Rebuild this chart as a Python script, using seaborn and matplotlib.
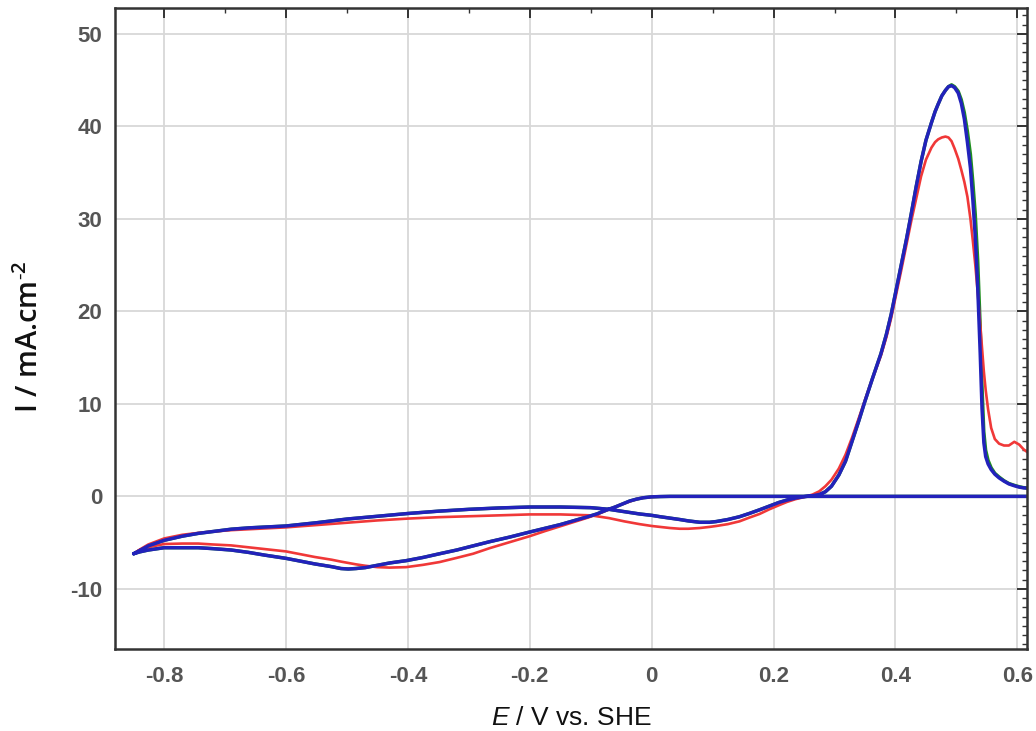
import matplotlib
matplotlib.use("Agg")
import matplotlib.pyplot as plt
import seaborn as sns
import pandas as pd
from matplotlib import font_manager as fm
from matplotlib.ticker import MultipleLocator

# ---------------- data ----------------
# anodic (forward) scan potentials, V vs SHE
E_fwd = [-0.85, -0.84, -0.826, -0.80, -0.77, -0.744, -0.72, -0.69, -0.66, -0.63,
         -0.60, -0.55, -0.50, -0.45, -0.40, -0.35, -0.30, -0.25, -0.20, -0.15,
         -0.10, -0.07, -0.045, -0.02, 0.0, 0.014, 0.03, 0.046, 0.06, 0.079,
         0.095, 0.106, 0.125, 0.144, 0.16, 0.177, 0.193, 0.209, 0.222, 0.236,
         0.25, 0.264, 0.275, 0.285, 0.295, 0.307, 0.318, 0.329, 0.34, 0.349,
         0.362, 0.376, 0.385, 0.393, 0.401, 0.409, 0.418, 0.426, 0.434, 0.442,
         0.45, 0.459, 0.465, 0.47, 0.476, 0.482, 0.487, 0.492, 0.497, 0.503,
         0.508, 0.513, 0.518, 0.523, 0.527, 0.531, 0.535, 0.539, 0.542, 0.545,
         0.548, 0.552, 0.557, 0.563, 0.57, 0.578, 0.586, 0.595, 0.603, 0.61,
         0.62]

I_blue_fwd = [-6.2, -5.85, -5.35, -4.75, -4.3, -4.0, -3.8, -3.55, -3.4, -3.3,
              -3.2, -2.85, -2.45, -2.15, -1.85, -1.6, -1.4, -1.25, -1.15, -1.15,
              -1.22, -1.4, -1.65, -1.9, -2.05, -2.2, -2.35, -2.5, -2.65, -2.8,
              -2.8, -2.72, -2.5, -2.2, -1.85, -1.45, -1.05, -0.65, -0.4, -0.18,
              -0.03, 0.07, 0.2, 0.5, 1.1, 2.3, 3.8, 6.0, 8.2, 10.1,
              12.7, 15.4, 17.5, 19.7, 22.3, 24.9, 27.8, 30.6, 33.5, 36.2,
              38.5, 40.4, 41.6, 42.4, 43.3, 43.9, 44.3, 44.4, 44.2, 43.6,
              42.5, 40.8, 38.3, 35.5, 32.0, 28.0, 22.5, 15.5, 9.5, 5.8,
              4.3, 3.5, 2.9, 2.4, 2.0, 1.65, 1.35, 1.15, 1.0, 0.92,
              0.86]

I_green_fwd = [-6.2, -5.85, -5.35, -4.75, -4.3, -4.0, -3.8, -3.55, -3.4, -3.3,
               -3.2, -2.85, -2.45, -2.15, -1.85, -1.6, -1.4, -1.25, -1.15, -1.15,
               -1.22, -1.4, -1.65, -1.9, -2.05, -2.2, -2.35, -2.5, -2.65, -2.8,
               -2.8, -2.72, -2.5, -2.2, -1.85, -1.45, -1.05, -0.65, -0.4, -0.18,
               -0.03, 0.07, 0.2, 0.5, 1.1, 2.3, 3.8, 6.0, 8.2, 10.1,
               12.7, 15.4, 17.5, 19.7, 22.3, 24.9, 27.8, 30.6, 33.5, 36.2,
               38.5, 40.4, 41.6, 42.4, 43.3, 43.9, 44.3, 44.5, 44.3, 43.8,
               42.9, 41.5, 39.5, 37.0, 34.0, 30.5, 25.5, 18.5, 12.0, 7.0,
               5.0, 3.9, 3.1, 2.5, 2.1, 1.7, 1.4, 1.2, 1.05, 0.95,
               0.9]

I_red_fwd = [-6.2, -5.75, -5.2, -4.55, -4.15, -3.95, -3.8, -3.65, -3.55, -3.45,
             -3.35, -3.1, -2.85, -2.6, -2.4, -2.25, -2.15, -2.05, -1.95, -1.95,
             -2.05, -2.35, -2.7, -3.0, -3.2, -3.3, -3.42, -3.5, -3.5, -3.42,
             -3.3, -3.2, -3.0, -2.7, -2.3, -1.9, -1.4, -0.95, -0.6, -0.3,
             -0.08, 0.2, 0.55, 1.1, 1.8, 3.0, 4.5, 6.4, 8.5, 10.2,
             12.7, 15.2, 17.2, 19.3, 21.8, 24.3, 27.2, 29.8, 32.2, 34.6,
             36.4, 37.7, 38.3, 38.6, 38.8, 38.9, 38.8, 38.4, 37.6, 36.5,
             35.3, 34.0, 32.4, 30.0, 27.6, 25.0, 22.0, 18.6, 16.0, 13.5,
             11.5, 9.4, 7.4, 6.2, 5.7, 5.5, 5.5, 5.9, 5.6, 5.1,
             4.6]

# cathodic (return) scan potentials, V vs SHE
E_rev = [0.62, 0.5, 0.4, 0.3, 0.2, 0.1, 0.05, 0.03, 0.014, 0.0,
         -0.014, -0.025, -0.036, -0.047, -0.06, -0.075, -0.09, -0.105, -0.129, -0.15,
         -0.175, -0.2, -0.233, -0.266, -0.293, -0.32, -0.348, -0.375, -0.403, -0.43,
         -0.45, -0.47, -0.485, -0.498, -0.51, -0.525, -0.553, -0.58, -0.6, -0.635,
         -0.662, -0.69, -0.72, -0.744, -0.77, -0.8, -0.826, -0.84, -0.85]

I_blue_rev = [0.0, 0.0, 0.0, 0.0, 0.0, 0.0, 0.0, 0.0, -0.02, -0.05,
              -0.15, -0.3, -0.5, -0.8, -1.15, -1.5, -1.9, -2.2, -2.65, -3.05,
              -3.45, -3.85, -4.4, -4.9, -5.35, -5.8, -6.2, -6.6, -6.95, -7.2,
              -7.45, -7.7, -7.8, -7.85, -7.8, -7.6, -7.3, -6.95, -6.7, -6.35,
              -6.05, -5.8, -5.65, -5.55, -5.55, -5.55, -5.8, -6.0, -6.2]

I_green_rev = [0.0, 0.0, 0.0, 0.0, 0.0, 0.0, 0.0, 0.0, -0.02, -0.05,
               -0.15, -0.3, -0.5, -0.8, -1.15, -1.5, -1.9, -2.2, -2.65, -3.05,
               -3.45, -3.85, -4.4, -4.9, -5.35, -5.8, -6.2, -6.6, -6.95, -7.2,
               -7.45, -7.7, -7.8, -7.85, -7.8, -7.6, -7.3, -6.95, -6.7, -6.35,
               -6.05, -5.8, -5.65, -5.55, -5.55, -5.55, -5.8, -6.0, -6.2]

I_red_rev = [0.0, 0.0, 0.0, 0.0, 0.0, 0.0, 0.0, 0.0, -0.03, -0.06,
             -0.15, -0.3, -0.55, -0.8, -1.15, -1.55, -1.95, -2.3, -2.8, -3.25,
             -3.75, -4.3, -4.95, -5.6, -6.2, -6.65, -7.1, -7.4, -7.65, -7.7,
             -7.65, -7.5, -7.35, -7.2, -7.05, -6.85, -6.55, -6.2, -5.95, -5.7,
             -5.5, -5.3, -5.2, -5.1, -5.1, -5.15, -5.5, -5.8, -6.2]

x_ticks = [-0.8, -0.6, -0.4, -0.2, 0.0, 0.2, 0.4, 0.6]
x_tick_labels = ["-0.8", "-0.6", "-0.4", "-0.2", "0", "0.2", "0.4", "0.6"]
y_ticks = [-10, 0, 10, 20, 30, 40, 50]
y_tick_labels = ["-10", "0", "10", "20", "30", "40", "50"]

series = {
    "green": (I_green_fwd, I_green_rev),
    "red": (I_red_fwd, I_red_rev),
    "blue": (I_blue_fwd, I_blue_rev),
}

# ---------------- style ----------------
sns.set_theme(style="white")
names = {f.name for f in fm.fontManager.ttflist}
narrow = "Liberation Sans Narrow" if "Liberation Sans Narrow" in names else "Liberation Sans"
ylab_font = "Open Sans" if "Open Sans" in names else "DejaVu Sans"
plt.rcParams["font.family"] = [narrow, "DejaVu Sans"]
plt.rcParams["mathtext.fontset"] = "custom"
plt.rcParams["mathtext.rm"] = narrow
plt.rcParams["mathtext.it"] = narrow + ":italic"
plt.rcParams["mathtext.default"] = "regular"

colors = {"green": "#1f8f1f", "red": "#f03838", "blue": "#2222bb"}
widths = {"green": 2.4, "red": 1.9, "blue": 2.5}

frames = []
for name, (fwd, rev) in series.items():
    E = list(E_fwd) + list(E_rev)
    I = list(fwd) + list(rev)
    frames.append(pd.DataFrame({"E": E, "I": I, "series": name, "idx": range(len(E))}))
df = pd.concat(frames, ignore_index=True)

fig = plt.figure(figsize=(10.36, 7.31), dpi=100)
ax = fig.add_axes([115 / 1036, 82 / 731, 912 / 1036, 641 / 731])

for name in ["green", "red", "blue"]:
    sub = df[df["series"] == name]
    sns.lineplot(data=sub, x="E", y="I", sort=False, estimator=None,
                 color=colors[name], lw=widths[name], ax=ax, legend=False)

ax.set_xlim(-0.8806, 0.6158)
ax.set_ylim(-16.5, 52.8)

ax.set_xticks(x_ticks)
ax.set_xticklabels(x_tick_labels)
ax.set_yticks(y_ticks)
ax.set_yticklabels(y_tick_labels)
ax.xaxis.set_minor_locator(MultipleLocator(0.1))
ax.yaxis.set_minor_locator(MultipleLocator(1))

ax.grid(True, which="major", color="#d8d8d8", lw=1.3)
ax.set_axisbelow(True)

for sp in ax.spines.values():
    sp.set_color("#333333")
    sp.set_linewidth(1.8)

ax.tick_params(which="both", direction="in", top=True, right=True, color="#333333")
ax.tick_params(which="major", length=7, width=1.4)
ax.tick_params(which="minor", length=3.5, width=1.0)
ax.tick_params(axis="x", which="major", labelsize=16, labelcolor="#555555", pad=12)
ax.tick_params(axis="y", which="major", labelsize=16, labelcolor="#555555", pad=9)
for lbl in ax.get_xticklabels() + ax.get_yticklabels():
    lbl.set_fontweight("bold")

ax.set_xlabel(r"$\mathit{E}$ / V vs. SHE", fontsize=19, color="#111111")
ax.xaxis.label.set_va("center")
ax.xaxis.set_label_coords(0.5, -0.1076)

ax.set_ylabel("I / mA.cm$^{\u20102}$", fontsize=21, color="#111111",
              family=[ylab_font, "DejaVu Sans"], fontweight="semibold")
ax.yaxis.label.set_va("center")
ax.yaxis.label.set_ha("center")
ax.yaxis.set_label_coords(-0.0932, 0.487)

fig.savefig("out.png", dpi=100)
